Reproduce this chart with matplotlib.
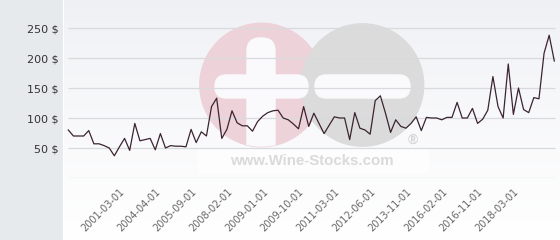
import numpy as np
import matplotlib
matplotlib.use("Agg")
import matplotlib.pyplot as plt
import matplotlib.transforms as mtrans
from matplotlib.patches import Rectangle, Circle, FancyBboxPatch

prices = [80, 70, 70, 70, 79, 57, 57, 54, 50, 37,
          52, 66, 46, 91, 62, 64, 66, 47, 74, 50,
          54, 53, 53, 52, 81, 59, 77, 70, 119, 133,
          66, 81, 112, 92, 87, 87, 78, 94, 103, 109,
          112, 113, 100, 97, 90, 82, 119, 86, 108, 91,
          74, 88, 102, 100, 100, 64, 109, 83, 80, 73,
          129, 137, 108, 76, 97, 86, 83, 91, 102, 79,
          101, 100, 100, 97, 101, 101, 126, 100, 100, 116,
          91, 98, 113, 169, 119, 100, 190, 106, 150, 114,
          109, 134, 132, 208, 238, 195]
tick_labels = ['2001-03-01', '2004-04-01', '2005-09-01', '2008-02-01',
               '2009-01-01', '2009-10-01', '2011-03-01', '2012-06-01',
               '2013-11-01', '2016-02-01', '2016-11-01', '2018-03-01']
y_ticks = [50, 100, 150, 200, 250]
first_tick = 11
tick_step = 7

W, H = 560, 240
fig = plt.figure(figsize=(W / 100, H / 100), dpi=100)

# background layer in pixel coordinates
bg = fig.add_axes([0, 0, 1, 1])
bg.set_xlim(0, W)
bg.set_ylim(H, 0)
bg.axis('off')
grad = np.linspace(0, 1, 256).reshape(-1, 1)
top = np.array([0xef, 0xf0, 0xf4]) / 255
bot = np.array([1.0, 1.0, 1.0])
img = top + (bot - top) * grad[:, :, None] ** 0.8
bg.imshow(img, extent=[63, W, H, 0], aspect='auto', zorder=0)
bg.add_patch(Rectangle((0, 0), 62, H, color='#e7eaed', zorder=1))
bg.plot([62.5, 62.5], [0, H], color='#ffffff', lw=0.8, zorder=2)

# watermark
pink = Circle((261.5, 85), 61.7, color='#edd2d9', zorder=2)
grey = Circle((362.5, 85), 61.2, color='#dbdbdb', zorder=2)
bg.add_patch(pink)
bg.add_patch(grey)
vbar = FancyBboxPatch((247, 38), 28, 120, boxstyle='round,pad=0,rounding_size=13',
                      color='#fafafc', zorder=3)
bg.add_patch(vbar)
vbar.set_clip_path(pink)
bg.add_patch(FancyBboxPatch((215, 75), 93, 23, boxstyle='round,pad=0,rounding_size=11',
                            color='#fafafc', zorder=3))
bg.add_patch(FancyBboxPatch((315, 75), 95, 23, boxstyle='round,pad=0,rounding_size=11',
                            color='#fafafc', zorder=3))
bg.add_patch(Rectangle((198, 149), 230, 23, color='#fdfdfd', zorder=2))
bg.text(312, 161, 'www.Wine-Stocks.com', family='Liberation Sans', weight='bold',
        fontsize=10.8, color='#dadada', ha='center', va='center', zorder=4)
bg.text(413, 140, '®', family='Liberation Sans', weight='bold',
        fontsize=10, color='#d6d6d6', ha='center', va='center', zorder=4)

# data axes
ax = fig.add_axes([63 / W, (H - 178) / H, (W - 63) / W, 178 / H])
ax.patch.set_alpha(0)
x = np.arange(len(prices))
px = 5.116
ax.set_xlim(-5.3 / px, len(prices) - 1 + 5.7 / px)
ax.set_ylim(0, 178 / 0.6)
for v in [0] + y_ticks:
    ax.hlines(v, -0.05, len(prices) - 0.9, color='#d8dadd' if v else '#cfd1d4',
              lw=0.9, zorder=1)
ax.plot(x, prices, color='#3b2430', lw=0.9, zorder=3)

ax.set_yticks(y_ticks)
ax.set_yticklabels(['%d $' % v for v in y_ticks], fontsize=8, color='#333333')
ticks = [first_tick + tick_step * i for i in range(len(tick_labels))]
ax.set_xticks(ticks)
ax.set_xticklabels(tick_labels, rotation=45, ha='right', va='top',
                   rotation_mode='anchor', fontsize=7, color='#666666')
ax.tick_params(axis='y', length=0, pad=3)
ax.tick_params(axis='x', length=0, pad=6.5)
shift = mtrans.ScaledTranslation(-5 / 100, 0, fig.dpi_scale_trans)
for lab in ax.get_xticklabels():
    lab.set_transform(lab.get_transform() + shift)
for s in ax.spines.values():
    s.set_visible(False)

fig.savefig('out.png', dpi=100)
